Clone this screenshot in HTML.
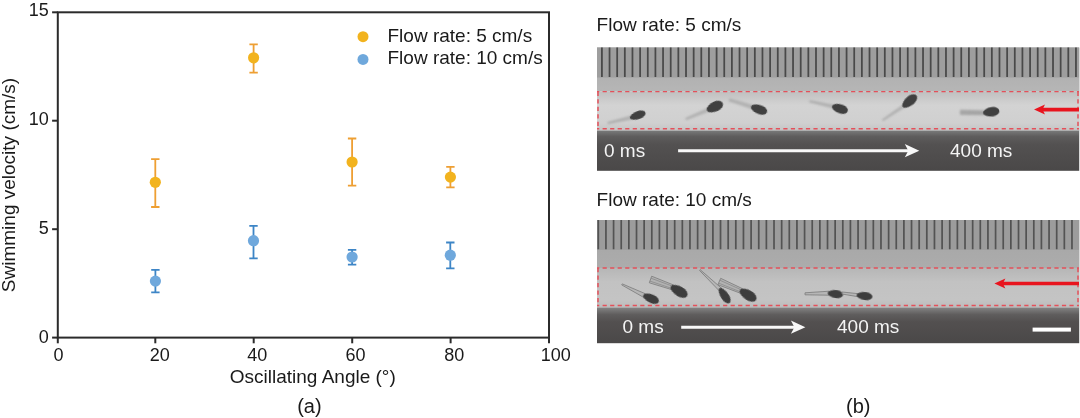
<!DOCTYPE html><html><head><meta charset="utf-8"><style>html,body{margin:0;padding:0;background:#fff;width:1080px;height:418px;overflow:hidden}svg{display:block;will-change:transform}text{font-family:"Liberation Sans",sans-serif}</style></head><body>
<svg width="1080" height="418" viewBox="0 0 1080 418">
<defs>
<filter id="bl" x="-50%" y="-50%" width="200%" height="200%"><feGaussianBlur stdDeviation="0.7"/></filter>
<filter id="bt" x="-50%" y="-50%" width="200%" height="200%"><feGaussianBlur stdDeviation="0.9"/></filter>
<filter id="bf" x="-50%" y="-50%" width="200%" height="200%"><feGaussianBlur stdDeviation="0.55"/></filter>
<filter id="bs" x="-2%" y="-10%" width="104%" height="120%"><feGaussianBlur stdDeviation="0.45"/></filter>
<linearGradient id="dk1" x1="0" y1="0" x2="0" y2="1"><stop offset="0" stop-color="#7a7a7a"/><stop offset="0.15" stop-color="#5e5c5c"/><stop offset="0.35" stop-color="#535151"/><stop offset="1" stop-color="#4a4848"/></linearGradient>
<linearGradient id="dk2" x1="0" y1="0" x2="0" y2="1"><stop offset="0" stop-color="#858585"/><stop offset="0.2" stop-color="#5f5d5d"/><stop offset="0.4" stop-color="#535050"/><stop offset="1" stop-color="#4a4848"/></linearGradient>
<linearGradient id="ch" x1="0" y1="0" x2="0" y2="1"><stop offset="0" stop-color="#c0c0c0"/><stop offset="0.35" stop-color="#d3d3d3"/><stop offset="0.8" stop-color="#d0d0d0"/><stop offset="1" stop-color="#c4c4c4"/></linearGradient>
<linearGradient id="bd2" x1="0" y1="0" x2="0" y2="1"><stop offset="0" stop-color="#a4a4a4"/><stop offset="1" stop-color="#acacac"/></linearGradient>
<linearGradient id="ch2" x1="0" y1="0" x2="0" y2="1"><stop offset="0" stop-color="#b6b6b6"/><stop offset="0.35" stop-color="#c2c2c2"/><stop offset="0.8" stop-color="#c4c4c4"/><stop offset="1" stop-color="#bcbcbc"/></linearGradient>
<linearGradient id="bd" x1="0" y1="0" x2="0" y2="1"><stop offset="0" stop-color="#a8a8a8"/><stop offset="1" stop-color="#b6b6b6"/></linearGradient>
</defs>
<rect x="57.8" y="12.3" width="491.2" height="325.3" fill="none" stroke="#2b2b2b" stroke-width="2"/>
<line x1="52.1" y1="337.6" x2="57.8" y2="337.6" stroke="#2b2b2b" stroke-width="2"/>
<text x="48.8" y="342.5" font-size="18" text-anchor="end" fill="#1a1a1a">0</text>
<line x1="52.1" y1="229.2" x2="57.8" y2="229.2" stroke="#2b2b2b" stroke-width="2"/>
<text x="48.8" y="234.0" font-size="18" text-anchor="end" fill="#1a1a1a">5</text>
<line x1="52.1" y1="120.7" x2="57.8" y2="120.7" stroke="#2b2b2b" stroke-width="2"/>
<text x="48.8" y="125.1" font-size="18" text-anchor="end" fill="#1a1a1a">10</text>
<line x1="52.1" y1="12.3" x2="57.8" y2="12.3" stroke="#2b2b2b" stroke-width="2"/>
<text x="48.8" y="15.8" font-size="18" text-anchor="end" fill="#1a1a1a">15</text>
<line x1="57.8" y1="337.6" x2="57.8" y2="343.3" stroke="#2b2b2b" stroke-width="2"/>
<text x="58.6" y="361.3" font-size="18" text-anchor="middle" fill="#1a1a1a">0</text>
<line x1="155.3" y1="337.6" x2="155.3" y2="343.3" stroke="#2b2b2b" stroke-width="2"/>
<text x="159.7" y="361.3" font-size="18" text-anchor="middle" fill="#1a1a1a">20</text>
<line x1="253.7" y1="337.6" x2="253.7" y2="343.3" stroke="#2b2b2b" stroke-width="2"/>
<text x="257.3" y="361.3" font-size="18" text-anchor="middle" fill="#1a1a1a">40</text>
<line x1="352.2" y1="337.6" x2="352.2" y2="343.3" stroke="#2b2b2b" stroke-width="2"/>
<text x="355.6" y="361.3" font-size="18" text-anchor="middle" fill="#1a1a1a">60</text>
<line x1="450.6" y1="337.6" x2="450.6" y2="343.3" stroke="#2b2b2b" stroke-width="2"/>
<text x="454.3" y="361.3" font-size="18" text-anchor="middle" fill="#1a1a1a">80</text>
<line x1="549.0" y1="337.6" x2="549.0" y2="343.3" stroke="#2b2b2b" stroke-width="2"/>
<text x="555.8" y="361.3" font-size="18" text-anchor="middle" fill="#1a1a1a">100</text>
<text x="312.8" y="383" font-size="19" text-anchor="middle" fill="#1a1a1a">Oscillating Angle (°)</text>
<text transform="translate(14.6,185) rotate(-90)" x="0" y="0" font-size="19" text-anchor="middle" fill="#1a1a1a">Swimming velocity (cm/s)</text>
<text x="309.4" y="413" font-size="20" text-anchor="middle" fill="#1a1a1a">(a)</text>
<text x="858.3" y="412.5" font-size="20" text-anchor="middle" fill="#1a1a1a">(b)</text>
<path d="M155.3 159.2V207.0M151.1 159.2H159.5M151.1 207.0H159.5" stroke="#ee9f33" stroke-width="1.8" fill="none"/>
<circle cx="155.3" cy="182.3" r="5.6" fill="#f2b31e"/>
<path d="M253.6 44.4V72.7M249.4 44.4H257.8M249.4 72.7H257.8" stroke="#ee9f33" stroke-width="1.8" fill="none"/>
<circle cx="253.6" cy="57.8" r="5.6" fill="#f2b31e"/>
<path d="M352.1 138.5V185.6M347.9 138.5H356.3M347.9 185.6H356.3" stroke="#ee9f33" stroke-width="1.8" fill="none"/>
<circle cx="352.1" cy="162.0" r="5.6" fill="#f2b31e"/>
<path d="M450.4 166.9V187.3M446.2 166.9H454.6M446.2 187.3H454.6" stroke="#ee9f33" stroke-width="1.8" fill="none"/>
<circle cx="450.4" cy="177.1" r="5.6" fill="#f2b31e"/>
<path d="M155.4 269.9V292.4M151.2 269.9H159.6M151.2 292.4H159.6" stroke="#3d85c6" stroke-width="1.8" fill="none"/>
<circle cx="155.4" cy="281.1" r="5.6" fill="#6fa8dc"/>
<path d="M253.5 225.8V258.4M249.3 225.8H257.7M249.3 258.4H257.7" stroke="#3d85c6" stroke-width="1.8" fill="none"/>
<circle cx="253.5" cy="240.7" r="5.6" fill="#6fa8dc"/>
<path d="M352.1 249.8V264.7M347.9 249.8H356.3M347.9 264.7H356.3" stroke="#3d85c6" stroke-width="1.8" fill="none"/>
<circle cx="352.1" cy="257.0" r="5.6" fill="#6fa8dc"/>
<path d="M450.3 242.5V268.4M446.1 242.5H454.5M446.1 268.4H454.5" stroke="#3d85c6" stroke-width="1.8" fill="none"/>
<circle cx="450.3" cy="255.2" r="5.6" fill="#6fa8dc"/>
<circle cx="363" cy="36.7" r="5.5" fill="#f2b31e"/>
<circle cx="363" cy="59.4" r="5.5" fill="#6fa8dc"/>
<text x="387.5" y="41.5" font-size="19" fill="#1a1a1a">Flow rate: 5 cm/s</text>
<text x="387.5" y="64.2" font-size="19" fill="#1a1a1a">Flow rate: 10 cm/s</text>
<text x="596.6" y="31" font-size="19" fill="#1a1a1a">Flow rate: 5 cm/s</text>
<text x="596.6" y="206" font-size="19" fill="#1a1a1a">Flow rate: 10 cm/s</text>
<g>
<rect x="597" y="47.5" width="482" height="44.2" fill="url(#bd)"/>
<rect x="597" y="47.5" width="482" height="30.0" fill="#9e9e9e"/>
<path d="M601.90 47.5V77.0M609.55 47.5V77.0M617.19 47.5V77.0M624.84 47.5V77.0M632.48 47.5V77.0M640.13 47.5V77.0M647.78 47.5V77.0M655.42 47.5V77.0M663.07 47.5V77.0M670.71 47.5V77.0M678.36 47.5V77.0M686.01 47.5V77.0M693.65 47.5V77.0M701.30 47.5V77.0M708.94 47.5V77.0M716.59 47.5V77.0M724.24 47.5V77.0M731.88 47.5V77.0M739.53 47.5V77.0M747.17 47.5V77.0M754.82 47.5V77.0M762.47 47.5V77.0M770.11 47.5V77.0M777.76 47.5V77.0M785.40 47.5V77.0M793.05 47.5V77.0M800.70 47.5V77.0M808.34 47.5V77.0M815.99 47.5V77.0M823.63 47.5V77.0M831.28 47.5V77.0M838.93 47.5V77.0M846.57 47.5V77.0M854.22 47.5V77.0M861.86 47.5V77.0M869.51 47.5V77.0M877.16 47.5V77.0M884.80 47.5V77.0M892.45 47.5V77.0M900.09 47.5V77.0M907.74 47.5V77.0M915.39 47.5V77.0M923.03 47.5V77.0M930.68 47.5V77.0M938.32 47.5V77.0M945.97 47.5V77.0M953.62 47.5V77.0M961.26 47.5V77.0M968.91 47.5V77.0M976.55 47.5V77.0M984.20 47.5V77.0M991.85 47.5V77.0M999.49 47.5V77.0M1007.14 47.5V77.0M1014.78 47.5V77.0M1022.43 47.5V77.0M1030.08 47.5V77.0M1037.72 47.5V77.0M1045.37 47.5V77.0M1053.01 47.5V77.0M1060.66 47.5V77.0M1068.31 47.5V77.0M1075.95 47.5V77.0" stroke="#484848" stroke-width="1.75" fill="none" filter="url(#bs)"/>
<rect x="597" y="91.7" width="482" height="38.8" fill="url(#ch)"/>
<rect x="597" y="130.5" width="482" height="40.30000000000001" fill="url(#dk1)"/>
<g filter="url(#bt)"><path d="M631.2 116.1L607.9 122.5L608.1 123.5L631.8 119.0Z" fill="#b2b2b2" stroke="#8e8e8e" stroke-width="0.6" stroke-linejoin="round" opacity="0.85"/></g><path d="M-8.25 0A9.57 4.00 0 0 1 1.32 -4.00A6.93 4.00 0 0 1 8.25 0A6.93 4.00 0 0 1 1.32 4.00A9.57 4.00 0 0 1 -8.25 0Z" transform="translate(637.7 115.3) rotate(-20)" fill="#404040" filter="url(#bf)"/>
<g filter="url(#bt)"><path d="M707.9 108.4L685.7 118.4L686.3 119.6L709.0 111.1Z" fill="#b2b2b2" stroke="#8e8e8e" stroke-width="0.6" stroke-linejoin="round" opacity="0.85"/></g><path d="M-8.75 0A10.15 5.00 0 0 1 1.40 -5.00A7.35 5.00 0 0 1 8.75 0A7.35 5.00 0 0 1 1.40 5.00A10.15 5.00 0 0 1 -8.75 0Z" transform="translate(714.8 106.8) rotate(-25)" fill="#404040" filter="url(#bf)"/>
<g filter="url(#bt)"><path d="M753.1 105.4L729.8 99.0L729.2 100.8L752.1 108.7Z" fill="#b2b2b2" stroke="#8e8e8e" stroke-width="0.6" stroke-linejoin="round" opacity="0.85"/></g><path d="M-8.50 0A9.86 4.50 0 0 1 1.36 -4.50A7.14 4.50 0 0 1 8.50 0A7.14 4.50 0 0 1 1.36 4.50A9.86 4.50 0 0 1 -8.50 0Z" transform="translate(759.0 109.4) rotate(20)" fill="#404040" filter="url(#bf)"/>
<g filter="url(#bt)"><path d="M834.0 105.2L809.8 100.8L809.6 101.8L833.3 108.1Z" fill="#b2b2b2" stroke="#8e8e8e" stroke-width="0.6" stroke-linejoin="round" opacity="0.85"/></g><path d="M-8.25 0A9.57 4.50 0 0 1 1.32 -4.50A6.93 4.50 0 0 1 8.25 0A6.93 4.50 0 0 1 1.32 4.50A9.57 4.50 0 0 1 -8.25 0Z" transform="translate(839.9 108.7) rotate(18)" fill="#404040" filter="url(#bf)"/>
<g filter="url(#bt)"><path d="M903.4 104.7L882.4 119.8L883.0 120.6L904.8 106.9Z" fill="#b2b2b2" stroke="#8e8e8e" stroke-width="0.6" stroke-linejoin="round" opacity="0.85"/></g><path d="M-9.00 0A10.44 4.75 0 0 1 1.44 -4.75A7.56 4.75 0 0 1 9.00 0A7.56 4.75 0 0 1 1.44 4.75A10.44 4.75 0 0 1 -9.00 0Z" transform="translate(909.6 101.2) rotate(-40)" fill="#404040" filter="url(#bf)"/>
<g filter="url(#bt)"><path d="M984.7 110.8L960.5 110.1L960.5 114.5L984.6 114.8Z" fill="#b8b8b8" stroke="#8e8e8e" stroke-width="0.6" stroke-linejoin="round" opacity="0.85"/><path d="M984.6 113.8L960.5 113.4" stroke="#8a8a8a" stroke-width="0.8"/><path d="M984.7 112.0L960.5 111.4" stroke="#8a8a8a" stroke-width="0.8"/></g><path d="M-8.25 0A9.57 4.75 0 0 1 1.32 -4.75A6.93 4.75 0 0 1 8.25 0A6.93 4.75 0 0 1 1.32 4.75A9.57 4.75 0 0 1 -8.25 0Z" transform="translate(991.2 111.9) rotate(-8)" fill="#404040" filter="url(#bf)"/>
<path d="M597 91.7H1079" stroke="#e4505a" stroke-width="1.3" stroke-dasharray="4.2 3.33" stroke-dashoffset="1.93" fill="none"/>
<path d="M597 128.8H1079" stroke="#e4505a" stroke-width="1.5" stroke-dasharray="4.2 3.33" stroke-dashoffset="1.93" fill="none"/>
<path d="M598 91.7V128.8M1078 91.7V128.8" stroke="#e4505a" stroke-width="1.5" stroke-dasharray="4.2 3.33" fill="none"/>
<rect x="1079" y="47.5" width="1" height="123.30000000000001" fill="#d8d8d8"/>
<path d="M1079 109.6H1042" stroke="#e8141e" stroke-width="3.6"/>
<path d="M1034 109.6L1045 104.6L1042.5 109.6L1045 114.6Z" fill="#e8141e"/>
<path d="M678.1 150.7H913.3" stroke="#f8f8f8" stroke-width="3"/>
<path d="M919.3 150.7L904.8 144.1L908.3 150.7L904.8 157.29999999999998Z" fill="#f8f8f8"/>
<text x="604" y="157.1" font-size="19" fill="#f4f4f4">0 ms</text>
<text x="950" y="157.1" font-size="19" fill="#f4f4f4">400 ms</text>
</g>
<g>
<rect x="597" y="220" width="482" height="48" fill="url(#bd2)"/>
<rect x="597" y="220" width="482" height="29.80000000000001" fill="#9c9c9c"/>
<path d="M598.30 220V249.3M605.94 220V249.3M613.58 220V249.3M621.22 220V249.3M628.86 220V249.3M636.50 220V249.3M644.14 220V249.3M651.78 220V249.3M659.42 220V249.3M667.06 220V249.3M674.70 220V249.3M682.34 220V249.3M689.98 220V249.3M697.62 220V249.3M705.26 220V249.3M712.90 220V249.3M720.54 220V249.3M728.18 220V249.3M735.82 220V249.3M743.46 220V249.3M751.10 220V249.3M758.74 220V249.3M766.38 220V249.3M774.02 220V249.3M781.66 220V249.3M789.30 220V249.3M796.94 220V249.3M804.58 220V249.3M812.22 220V249.3M819.86 220V249.3M827.50 220V249.3M835.14 220V249.3M842.78 220V249.3M850.42 220V249.3M858.06 220V249.3M865.70 220V249.3M873.34 220V249.3M880.98 220V249.3M888.62 220V249.3M896.26 220V249.3M903.90 220V249.3M911.54 220V249.3M919.18 220V249.3M926.82 220V249.3M934.46 220V249.3M942.10 220V249.3M949.74 220V249.3M957.38 220V249.3M965.02 220V249.3M972.66 220V249.3M980.30 220V249.3M987.94 220V249.3M995.58 220V249.3M1003.22 220V249.3M1010.86 220V249.3M1018.50 220V249.3M1026.14 220V249.3M1033.78 220V249.3M1041.42 220V249.3M1049.06 220V249.3M1056.70 220V249.3M1064.34 220V249.3M1071.98 220V249.3" stroke="#525252" stroke-width="1.7" fill="none" filter="url(#bs)"/>
<rect x="597" y="268" width="482" height="39.39999999999998" fill="url(#ch2)"/>
<rect x="597" y="307.4" width="482" height="35.80000000000001" fill="url(#dk2)"/>
<g filter="url(#bf)"><path d="M645.7 293.9L622.3 283.9L621.7 284.9L643.9 297.5Z" fill="#b4b4b4" stroke="#767676" stroke-width="0.9" stroke-linejoin="round" opacity="0.85"/></g><path d="M-8.50 0A9.86 4.25 0 0 1 1.36 -4.25A7.14 4.25 0 0 1 8.50 0A7.14 4.25 0 0 1 1.36 4.25A9.86 4.25 0 0 1 -8.50 0Z" transform="translate(651.0 298.5) rotate(24)" fill="#3e3e3e" filter="url(#bf)"/>
<g filter="url(#bf)"><path d="M673.3 284.9L651.7 276.2L649.3 282.8L671.7 289.6Z" fill="#b0b0b0" stroke="#767676" stroke-width="0.9" stroke-linejoin="round" opacity="0.85"/><path d="M672.1 288.5L649.9 281.1" stroke="#8a8a8a" stroke-width="0.8"/><path d="M672.8 286.3L651.0 278.2" stroke="#8a8a8a" stroke-width="0.8"/></g><path d="M-9.50 0A11.02 5.00 0 0 1 1.52 -5.00A7.98 5.00 0 0 1 9.50 0A7.98 5.00 0 0 1 1.52 5.00A11.02 5.00 0 0 1 -9.50 0Z" transform="translate(679.0 291.2) rotate(31)" fill="#3e3e3e" filter="url(#bf)"/>
<g filter="url(#bf)"><path d="M721.7 288.4L700.1 269.6L699.5 270.4L719.3 290.9Z" fill="#b4b4b4" stroke="#767676" stroke-width="0.9" stroke-linejoin="round" opacity="0.85"/></g><path d="M-9.00 0A10.44 4.00 0 0 1 1.44 -4.00A7.56 4.00 0 0 1 9.00 0A7.56 4.00 0 0 1 1.44 4.00A10.44 4.00 0 0 1 -9.00 0Z" transform="translate(724.5 295.6) rotate(56)" fill="#3e3e3e" filter="url(#bf)"/>
<g filter="url(#bf)"><path d="M742.5 288.7L720.7 278.3L717.9 284.7L740.6 293.3Z" fill="#b0b0b0" stroke="#767676" stroke-width="0.9" stroke-linejoin="round" opacity="0.85"/><path d="M741.1 292.1L718.6 283.1" stroke="#8a8a8a" stroke-width="0.8"/><path d="M741.9 290.1L719.8 280.2" stroke="#8a8a8a" stroke-width="0.8"/></g><path d="M-9.50 0A11.02 5.00 0 0 1 1.52 -5.00A7.98 5.00 0 0 1 9.50 0A7.98 5.00 0 0 1 1.52 5.00A11.02 5.00 0 0 1 -9.50 0Z" transform="translate(748.0 295.0) rotate(32)" fill="#3e3e3e" filter="url(#bf)"/>
<g filter="url(#bf)"><path d="M829.2 291.2L805.0 292.8L805.0 294.8L829.3 295.2Z" fill="#b4b4b4" stroke="#767676" stroke-width="0.9" stroke-linejoin="round" opacity="0.85"/></g><path d="M-7.75 0A8.99 4.00 0 0 1 1.24 -4.00A6.51 4.00 0 0 1 7.75 0A6.51 4.00 0 0 1 1.24 4.00A8.99 4.00 0 0 1 -7.75 0Z" transform="translate(835.4 294.0) rotate(7)" fill="#3e3e3e" filter="url(#bf)"/>
<g filter="url(#bf)"><path d="M858.4 293.7L842.1 292.0L841.9 294.0L857.9 296.7Z" fill="#b4b4b4" stroke="#767676" stroke-width="0.9" stroke-linejoin="round" opacity="0.85"/></g><path d="M-8.00 0A9.28 4.00 0 0 1 1.28 -4.00A6.72 4.00 0 0 1 8.00 0A6.72 4.00 0 0 1 1.28 4.00A9.28 4.00 0 0 1 -8.00 0Z" transform="translate(864.5 296.0) rotate(7)" fill="#3e3e3e" filter="url(#bf)"/>
<path d="M597 268H1079" stroke="#e4505a" stroke-width="1.3" stroke-dasharray="4.2 3.33" stroke-dashoffset="1.93" fill="none"/>
<path d="M597 305.5H1079" stroke="#e4505a" stroke-width="1.5" stroke-dasharray="4.2 3.33" stroke-dashoffset="1.93" fill="none"/>
<path d="M598 268V305.5M1078 268V305.5" stroke="#e4505a" stroke-width="1.5" stroke-dasharray="4.2 3.33" fill="none"/>
<rect x="1079" y="220" width="1" height="123.19999999999999" fill="#d8d8d8"/>
<path d="M1079 283.5H1002.4" stroke="#e8141e" stroke-width="3.6"/>
<path d="M994.4 283.5L1005.4 278.5L1002.9 283.5L1005.4 288.5Z" fill="#e8141e"/>
<path d="M681.2 327.2H799.4" stroke="#f8f8f8" stroke-width="3"/>
<path d="M805.4 327.2L790.9 320.59999999999997L794.4 327.2L790.9 333.8Z" fill="#f8f8f8"/>
<text x="622.5" y="333" font-size="19" fill="#f4f4f4">0 ms</text>
<text x="837" y="333" font-size="19" fill="#f4f4f4">400 ms</text>
<rect x="1032.6" y="327.6" width="38.3" height="4" fill="#fff"/>
</g>
</svg></body></html>
